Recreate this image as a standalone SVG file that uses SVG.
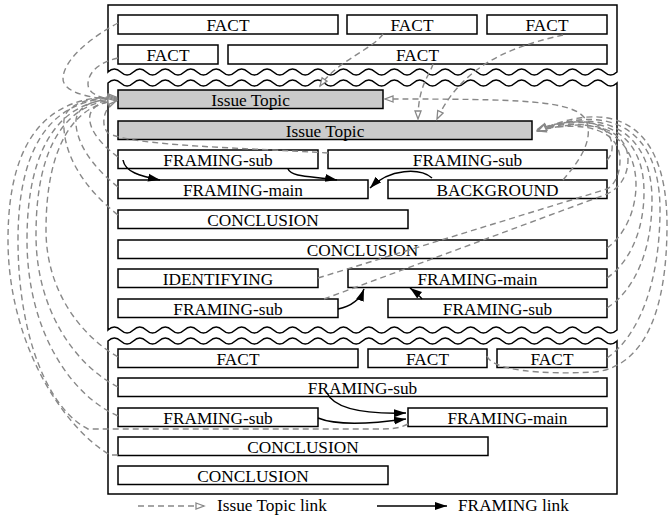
<svg xmlns="http://www.w3.org/2000/svg" width="668" height="518" viewBox="0 0 668 518">
<defs>
<style>
.sec{fill:#fff;stroke:#000;stroke-width:1.5}
.b{fill:#fff;stroke:#000;stroke-width:1.5}
.g{fill:#cbcbcb;stroke:#000;stroke-width:1.5}
text{font-family:"Liberation Serif","Times New Roman",serif;font-size:17.3px;fill:#000;text-anchor:middle}
.lg{text-anchor:start}
.it{fill:none;stroke:#888;stroke-width:1.4;stroke-dasharray:6 4;marker-end:url(#ha)}
.fr{fill:none;stroke:#000;stroke-width:1.5;marker-end:url(#fa)}
</style>
<marker id="ha" markerWidth="12" markerHeight="10" refX="9" refY="4" orient="auto" markerUnits="userSpaceOnUse"><path d="M1,1 L9,4 L1,7 Z" fill="#fff" stroke="#888" stroke-width="1.3"/></marker>
<marker id="fa" markerWidth="14" markerHeight="10" refX="12" refY="5" orient="auto" markerUnits="userSpaceOnUse"><path d="M0,1 L12,5 L0,9 Z" fill="#000"/></marker>
</defs>
<g id="frame">
<path class="sec" d="M108,72 q6.3625,-6 12.725,0 t12.725,0 t12.725,0 t12.725,0 t12.725,0 t12.725,0 t12.725,0 t12.725,0 t12.725,0 t12.725,0 t12.725,0 t12.725,0 t12.725,0 t12.725,0 t12.725,0 t12.725,0 t12.725,0 t12.725,0 t12.725,0 t12.725,0 t12.725,0 t12.725,0 t12.725,0 t12.725,0 t12.725,0 t12.725,0 t12.725,0 t12.725,0 t12.725,0 t12.725,0 t12.725,0 t12.725,0 t12.725,0 t12.725,0 t12.725,0 t12.725,0 t12.725,0 t12.725,0 t12.725,0 t12.725,0 V5 H108 Z"/>
<path class="sec" d="M108,83 q6.3625,-6 12.725,0 t12.725,0 t12.725,0 t12.725,0 t12.725,0 t12.725,0 t12.725,0 t12.725,0 t12.725,0 t12.725,0 t12.725,0 t12.725,0 t12.725,0 t12.725,0 t12.725,0 t12.725,0 t12.725,0 t12.725,0 t12.725,0 t12.725,0 t12.725,0 t12.725,0 t12.725,0 t12.725,0 t12.725,0 t12.725,0 t12.725,0 t12.725,0 t12.725,0 t12.725,0 t12.725,0 t12.725,0 t12.725,0 t12.725,0 t12.725,0 t12.725,0 t12.725,0 t12.725,0 t12.725,0 t12.725,0 V330 q-6.3625,6 -12.725,0 t-12.725,0 t-12.725,0 t-12.725,0 t-12.725,0 t-12.725,0 t-12.725,0 t-12.725,0 t-12.725,0 t-12.725,0 t-12.725,0 t-12.725,0 t-12.725,0 t-12.725,0 t-12.725,0 t-12.725,0 t-12.725,0 t-12.725,0 t-12.725,0 t-12.725,0 t-12.725,0 t-12.725,0 t-12.725,0 t-12.725,0 t-12.725,0 t-12.725,0 t-12.725,0 t-12.725,0 t-12.725,0 t-12.725,0 t-12.725,0 t-12.725,0 t-12.725,0 t-12.725,0 t-12.725,0 t-12.725,0 t-12.725,0 t-12.725,0 t-12.725,0 t-12.725,0 Z"/>
<path class="sec" d="M108,341 q6.3625,-6 12.725,0 t12.725,0 t12.725,0 t12.725,0 t12.725,0 t12.725,0 t12.725,0 t12.725,0 t12.725,0 t12.725,0 t12.725,0 t12.725,0 t12.725,0 t12.725,0 t12.725,0 t12.725,0 t12.725,0 t12.725,0 t12.725,0 t12.725,0 t12.725,0 t12.725,0 t12.725,0 t12.725,0 t12.725,0 t12.725,0 t12.725,0 t12.725,0 t12.725,0 t12.725,0 t12.725,0 t12.725,0 t12.725,0 t12.725,0 t12.725,0 t12.725,0 t12.725,0 t12.725,0 t12.725,0 t12.725,0 V494 H108 Z"/>
</g>
<g id="n-fact1"><rect class="b" x="118" y="15" width="220" height="19"/><text x="228" y="31">FACT</text></g>
<g id="n-fact2"><rect class="b" x="347" y="15" width="130" height="19"/><text x="412" y="31">FACT</text></g>
<g id="n-fact3"><rect class="b" x="487" y="15" width="120" height="19"/><text x="547" y="31">FACT</text></g>
<g id="n-fact4"><rect class="b" x="118" y="45" width="100" height="19"/><text x="168" y="61">FACT</text></g>
<g id="n-fact5"><rect class="b" x="228" y="45" width="379" height="19"/><text x="417.5" y="61">FACT</text></g>
<g id="n-it1"><rect class="g" x="118" y="90" width="265" height="18.5"/><text x="250.5" y="106">Issue Topic</text></g>
<g id="n-it2"><rect class="g" x="118" y="121" width="414" height="18.5"/><text x="325" y="137">Issue Topic</text></g>
<g id="n-fs1"><rect class="b" x="118" y="150" width="200" height="18.5"/><text x="218" y="166">FRAMING-sub</text></g>
<g id="n-fs2"><rect class="b" x="328" y="150" width="279" height="18.5"/><text x="467.5" y="166">FRAMING-sub</text></g>
<g id="n-fm1"><rect class="b" x="118" y="180" width="250" height="18.5"/><text x="243" y="196">FRAMING-main</text></g>
<g id="n-bg"><rect class="b" x="388" y="180" width="219" height="18.5"/><text x="497.5" y="196">BACKGROUND</text></g>
<g id="n-c1"><rect class="b" x="118" y="210" width="290" height="18.5"/><text x="263" y="226">CONCLUSION</text></g>
<g id="n-c2"><rect class="b" x="118" y="240" width="489" height="18.5"/><text x="362.5" y="256">CONCLUSION</text></g>
<g id="n-id"><rect class="b" x="118" y="269" width="200" height="18.5"/><text x="218" y="285">IDENTIFYING</text></g>
<g id="n-fm2"><rect class="b" x="348" y="269" width="259" height="18.5"/><text x="477.5" y="285">FRAMING-main</text></g>
<g id="n-fs3"><rect class="b" x="118" y="299" width="220" height="18.5"/><text x="228" y="315">FRAMING-sub</text></g>
<g id="n-fs4"><rect class="b" x="388" y="299" width="219" height="18.5"/><text x="497.5" y="315">FRAMING-sub</text></g>
<g id="n-bf1"><rect class="b" x="118" y="349" width="240" height="18.5"/><text x="238" y="365">FACT</text></g>
<g id="n-bf2"><rect class="b" x="368" y="349" width="119" height="18.5"/><text x="427.5" y="365">FACT</text></g>
<g id="n-bf3"><rect class="b" x="497" y="349" width="110" height="18.5"/><text x="552" y="365">FACT</text></g>
<g id="n-bs1"><rect class="b" x="118" y="378" width="489" height="18.5"/><text x="362.5" y="394">FRAMING-sub</text></g>
<g id="n-bs2"><rect class="b" x="118" y="408" width="200" height="18.5"/><text x="218" y="424">FRAMING-sub</text></g>
<g id="n-bm"><rect class="b" x="408" y="408" width="199" height="18.5"/><text x="507.5" y="424">FRAMING-main</text></g>
<g id="n-bc1"><rect class="b" x="118" y="437" width="370" height="18.5"/><text x="303" y="453">CONCLUSION</text></g>
<g id="n-bc2"><rect class="b" x="118" y="466" width="270" height="18.5"/><text x="253" y="482">CONCLUSION</text></g>
<g id="connectors">
<path class="it" d="M118,23 C95,35 64,58 63,78 C62,92 90,99 116,99"/>
<path class="it" d="M118,58 C100,62 88,72 88,84 C88,94 100,98 116,100"/>
<path class="it" d="M383,34 C372,50 338,60 320,86"/>
<path class="it" d="M433,64 C430,75 418,85 418,119"/>
<path class="it" d="M563,35 C520,45 465,60 437,119"/>
<path class="it" d="M563,180 C580,160 594,140 586,120 C575,100 520,99 385,99"/>
<path class="it" d="M328,153 C250,148 130,146 108,133 C100,125 104,106 116,101"/>
<path class="it" d="M118,157 C95,140 88,125 90,115 C92,106 102,102 116,101"/>
<path class="it" d="M118,187 C90,165 75,140 76,120 C78,104 98,99 116,99"/>
<path class="it" d="M118,215 C80,185 62,150 64,120 C66,102 95,97 116,98"/>
<path class="it" d="M118,455 L110,455 C60,425 8,340 8,240 C8,130 55,96 116,97"/>
<path class="it" d="M408,424 C398,429 390,429 375,429 L88,429 C50,410 18,340 18,240 C18,135 60,98 116,98"/>
<path class="it" d="M118,416 C70,395 27,330 27,240 C27,140 65,100 116,99"/>
<path class="it" d="M118,387 C75,365 36,310 36,235 C36,140 70,102 116,100"/>
<path class="it" d="M118,357 C80,335 46,290 46,230 C46,145 75,104 116,101"/>
<path class="it" d="M607,160 C618,150 612,124 585,122 C565,121 550,125 538,129"/>
<path class="it" d="M318,278 L607,189 C616,184 620,172 620,160 C620,130 585,120 538,130"/>
<path class="it" d="M324,299 L607,194 C620,188 628,175 628,160 C628,128 590,117 538,131"/>
<path class="it" d="M607,248 C625,235 636,210 636,185 C636,135 595,113 538,130"/>
<path class="it" d="M607,278 C630,262 644,230 644,192 C644,130 598,110 538,130"/>
<path class="it" d="M607,308 C635,290 652,250 652,200 C652,128 600,107 538,130"/>
<path class="it" d="M607,358 C640,335 660,280 660,210 C660,122 602,104 538,131"/>
<path class="it" d="M487,356 C492,370 540,375 595,372 C645,366 667,310 667,225 C667,115 605,100 538,131"/>
<path class="fr" d="M123,160 C125,172 140,176 160,180"/>
<path class="fr" d="M288,169 C292,178 315,176 337,180"/>
<path class="fr" d="M432,178 C420,168 390,168 370,188"/>
<path class="fr" d="M338,309 C352,306 360,300 364,289"/>
<path class="fr" d="M422,299 C418,294 414,291 410,288"/>
<path class="fr" d="M327,393 C335,410 370,414 406,413"/>
<path class="fr" d="M318,418 C335,425 370,424 406,419"/>
</g>
<g id="legend">
<path class="it" d="M138,506 L204,506"/>
<text class="lg" x="217" y="511">Issue Topic link</text>
<path class="fr" d="M377,506 L447,506"/>
<text class="lg" x="458" y="511">FRAMING link</text>
</g>
</svg>
